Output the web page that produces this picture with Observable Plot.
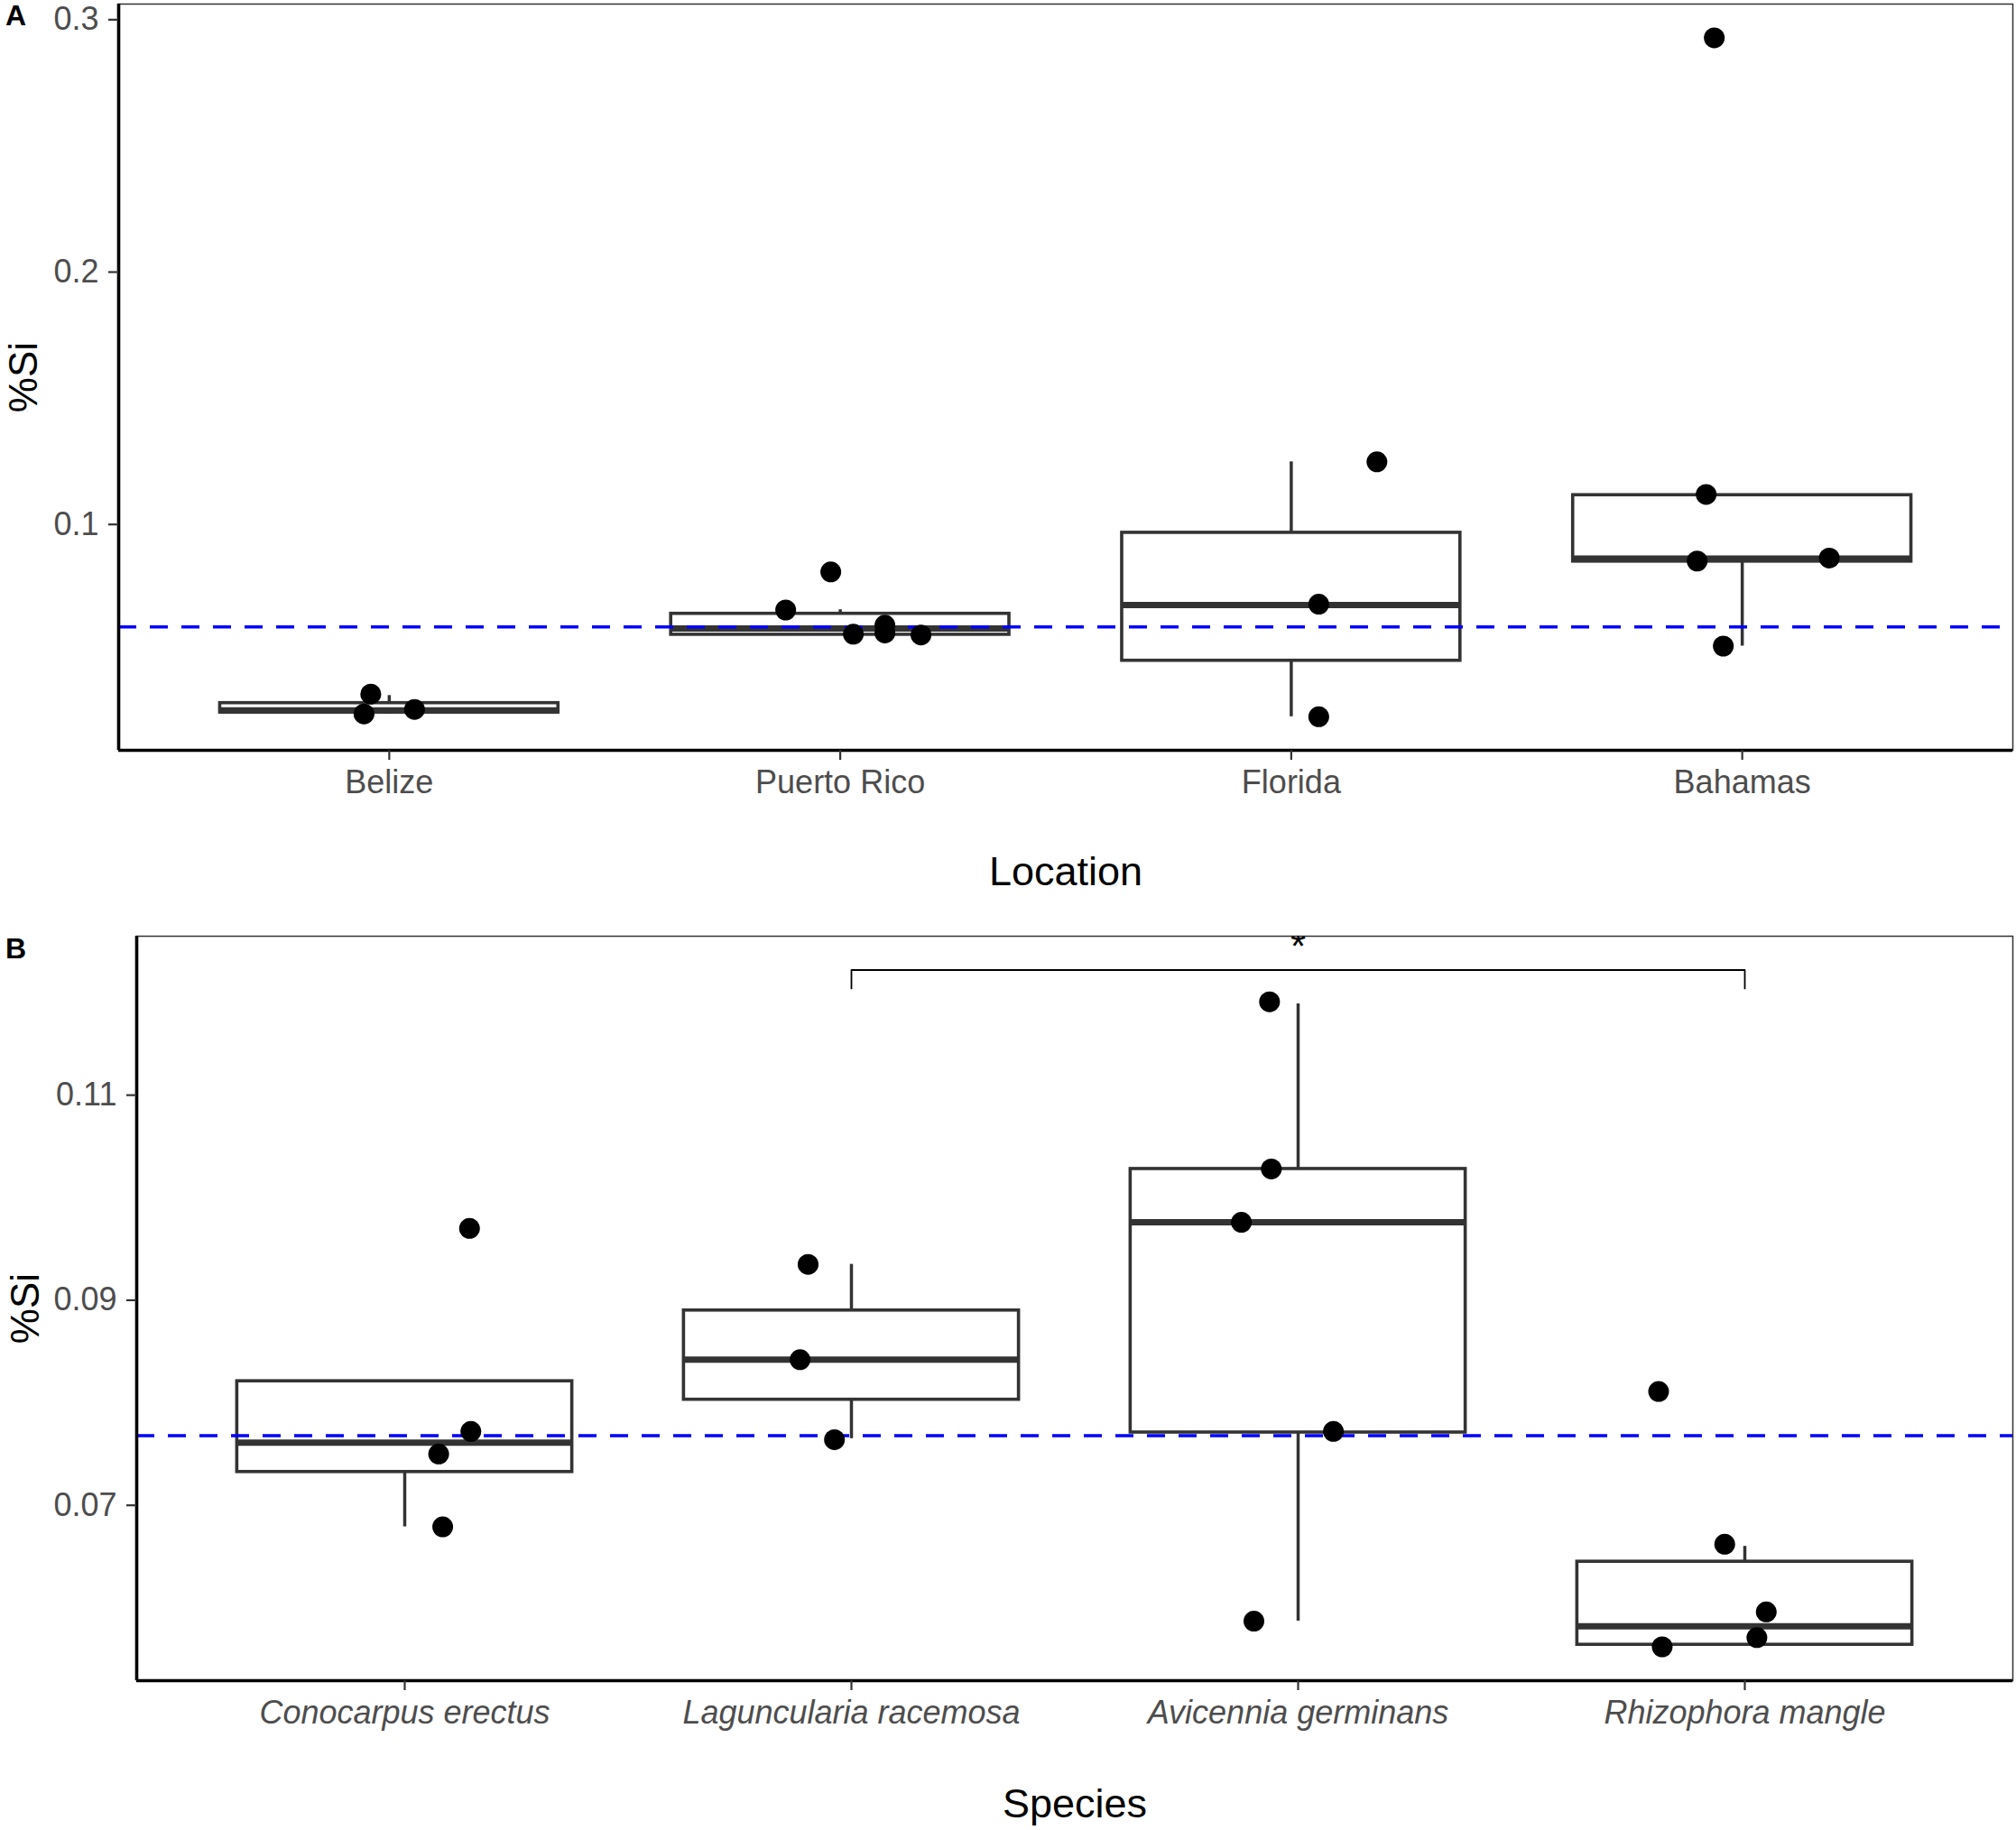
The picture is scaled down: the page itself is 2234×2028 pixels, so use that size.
<!DOCTYPE html>
<html>
<head>
<meta charset="utf-8">
<script src="https://cdn.jsdelivr.net/npm/d3@7"></script>
<script src="https://cdn.jsdelivr.net/npm/@observablehq/plot@0.6"></script>
<style>
  html, body { margin: 0; padding: 0; background: #fff; }
  #chart svg { display: block; }
</style>
</head>
<body>
<div id="chart"></div>
<script>
// ---------- Panel A: %Si by location ----------
const locations = ["Belize", "Puerto Rico", "Florida", "Bahamas"];
const locPointCat = ["Belize","Belize","Belize",
  "Puerto Rico","Puerto Rico","Puerto Rico","Puerto Rico","Puerto Rico","Puerto Rico",
  "Florida","Florida","Florida",
  "Bahamas","Bahamas","Bahamas","Bahamas","Bahamas"];
const locPointJitter = [-0.041, -0.056, 0.056,
  -0.121, -0.021, 0.029, 0.099, 0.099, 0.179,
  0.19, 0.061, 0.061,
  -0.062, -0.08, -0.1, 0.193, -0.042];
const locPointSi = [0.0328, 0.0249, 0.0267,
  0.0661, 0.0812, 0.0565, 0.0601, 0.0570, 0.0562,
  0.1248, 0.0684, 0.0238,
  0.2928, 0.1119, 0.0855, 0.0867, 0.0518];
const locLo  = [0.0249, 0.0560, 0.0238, 0.0518];
const locQ1  = [0.0255, 0.0563, 0.0460, 0.0853];
const locMed = [0.0263, 0.0588, 0.0681, 0.0865];
const locQ3  = [0.0292, 0.0646, 0.0967, 0.1116];
const locHi  = [0.0322, 0.0662, 0.1248, 0.1116];
const locRef = 0.0594;
const locYDomain = [0.0105, 0.3062];
const locYTicks = [0.1, 0.2, 0.3];
const locYTickLabels = ["0.1", "0.2", "0.3"];

// ---------- Panel B: %Si by species ----------
const species = ["Conocarpus erectus", "Laguncularia racemosa", "Avicennia germinans", "Rhizophora mangle"];
const spPointCat = ["Conocarpus erectus","Conocarpus erectus","Conocarpus erectus","Conocarpus erectus",
  "Laguncularia racemosa","Laguncularia racemosa","Laguncularia racemosa",
  "Avicennia germinans","Avicennia germinans","Avicennia germinans","Avicennia germinans","Avicennia germinans",
  "Rhizophora mangle","Rhizophora mangle","Rhizophora mangle","Rhizophora mangle","Rhizophora mangle"];
const spPointJitter = [0.145, 0.148, 0.076, 0.085,
  -0.097, -0.115, -0.038,
  -0.064, -0.06, -0.127, 0.079, -0.099,
  -0.193, -0.045, 0.048, 0.027, -0.185];
const spPointSi = [0.0970, 0.0772, 0.0750, 0.0679,
  0.0935, 0.0842, 0.0764,
  0.1191, 0.1028, 0.0976, 0.0772, 0.0587,
  0.0811, 0.0662, 0.0596, 0.0571, 0.0562];
const spLo  = [0.0679, 0.0765, 0.0587, 0.0564];
const spQ1  = [0.07325, 0.0803, 0.0771, 0.0564];
const spMed = [0.0761, 0.0842, 0.0976, 0.0582];
const spQ3  = [0.0821, 0.0890, 0.1028, 0.0645];
const spHi  = [0.0821, 0.0935, 0.1189, 0.0660];
const spRef = 0.0768;
const spYDomain = [0.0529, 0.1255];
const spYTicks = [0.07, 0.09, 0.11];
const spYTickLabels = ["0.07", "0.09", "0.11"];
// significance bracket
const sigFrom = "Laguncularia racemosa";
const sigTo = "Rhizophora mangle";
const sigBarY = 0.1222;
const sigTipY = 0.1204;
const sigLabel = "*";
const sigLabelY = 0.1232;

const FONT = "'Liberation Sans', Arial, Helvetica, sans-serif";

function panel(o) {
  const cats = o.cats;
  const boxes = cats.map((c, i) => ({i: i + 1, lo: o.lo[i], q1: o.q1[i], med: o.med[i], q3: o.q3[i], hi: o.hi[i]}));
  const pts = o.ptCat.map((c, k) => ({x: cats.indexOf(c) + 1 + o.ptJit[k], y: o.ptVal[k]}));
  const hw = 0.375;
  const marks = [
    Plot.frame({stroke: "#333", strokeWidth: 1.5}),
    Plot.ruleX(boxes, {x: "i", y1: "q3", y2: "hi", stroke: "#333", strokeWidth: 3.5}),
    Plot.ruleX(boxes, {x: "i", y1: "lo", y2: "q1", stroke: "#333", strokeWidth: 3.5}),
    Plot.rect(boxes, {x1: d => d.i - hw, x2: d => d.i + hw, y1: "q1", y2: "q3", fill: "white", stroke: "#333", strokeWidth: 3.6}),
    Plot.ruleY(boxes, {y: "med", x1: d => d.i - hw, x2: d => d.i + hw, stroke: "#333", strokeWidth: 7}),
    Plot.ruleY([o.ref], {stroke: "#0000ff", strokeWidth: 3.5, strokeDasharray: "20,15"}),
    Plot.dot(pts, {x: "x", y: "y", r: 11.5, fill: "black", stroke: null})
  ];
  if (o.extra) marks.push(...o.extra(cats));
  marks.push(
    Plot.ruleX([0.4], {stroke: "black", strokeWidth: 3.6}),
    Plot.ruleY([o.yDomain[0]], {stroke: "black", strokeWidth: 3.6}),
    Plot.axisX({ticks: [1, 2, 3, 4], tickFormat: d => cats[d - 1], tickSize: 11, tickPadding: 11,
      fontSize: 36, fontStyle: o.italic ? "italic" : "normal", color: "#333", fill: "#4d4d4d", strokeWidth: 2.2, label: null}),
    Plot.axisY({ticks: o.yTicks, tickFormat: d => o.yTickLabels[o.yTicks.indexOf(d)], tickSize: 11, tickPadding: 11,
      fontSize: 36, color: "#333", fill: "#4d4d4d", strokeWidth: 2.2, label: null}),
    Plot.text([o.xTitle], {text: d => d, frameAnchor: "bottom", dy: o.xTitleDy, fontSize: 45, fill: "black", lineAnchor: "middle", textAnchor: "middle"}),
    Plot.text([o.yTitle], {text: d => d, frameAnchor: "left", dx: o.yTitleDx, rotate: -90, fontSize: 44, fill: "black", lineAnchor: "bottom", textAnchor: "middle"}),
    Plot.text([o.tag], {text: d => d, frameAnchor: "top-left", dx: o.tagDx, dy: o.tagDy, fontSize: 32, fontWeight: "bold", fill: "black", lineAnchor: "middle", textAnchor: "middle"})
  );
  return Plot.plot({
    width: 2234,
    height: o.height,
    marginLeft: o.marginLeft,
    marginRight: 4,
    marginTop: o.marginTop,
    marginBottom: o.marginBottom,
    x: {type: "linear", domain: [0.4, 4.6]},
    y: {type: "linear", domain: o.yDomain},
    style: {fontFamily: FONT, background: "white", overflow: "visible"},
    marks
  });
}

const chart = document.getElementById("chart");

chart.appendChild(panel({
  cats: locations, ptCat: locPointCat, ptJit: locPointJitter, ptVal: locPointSi,
  lo: locLo, q1: locQ1, med: locMed, q3: locQ3, hi: locHi, ref: locRef,
  yDomain: locYDomain, yTicks: locYTicks, yTickLabels: locYTickLabels,
  xTitle: "Location", yTitle: "%Si", tag: "A", italic: false,
  height: 1000, marginLeft: 131, marginTop: 4, marginBottom: 169,
  xTitleDy: 135, yTitleDx: -91, tagDx: -114, tagDy: 13
}));

chart.appendChild(panel({
  cats: species, ptCat: spPointCat, ptJit: spPointJitter, ptVal: spPointSi,
  lo: spLo, q1: spQ1, med: spMed, q3: spQ3, hi: spHi, ref: spRef,
  yDomain: spYDomain, yTicks: spYTicks, yTickLabels: spYTickLabels,
  xTitle: "Species", yTitle: "%Si", tag: "B", italic: true,
  height: 1028, marginLeft: 151, marginTop: 37, marginBottom: 166,
  xTitleDy: 137, yTitleDx: -109, tagDx: -134, tagDy: 14,
  extra: (cats) => {
    const a = cats.indexOf(sigFrom) + 1, b = cats.indexOf(sigTo) + 1;
    const bracket = [
      {x: a, y: sigTipY}, {x: a, y: sigBarY}, {x: b, y: sigBarY}, {x: b, y: sigTipY}
    ];
    return [
      Plot.line(bracket, {x: "x", y: "y", stroke: "black", strokeWidth: 1.8}),
      Plot.text([{x: (a + b) / 2, y: sigLabelY, t: sigLabel}], {x: "x", y: "y", text: "t", fontSize: 44, lineAnchor: "bottom", fill: "black", clip: true})
    ];
  }
}));
</script>
</body>
</html>
